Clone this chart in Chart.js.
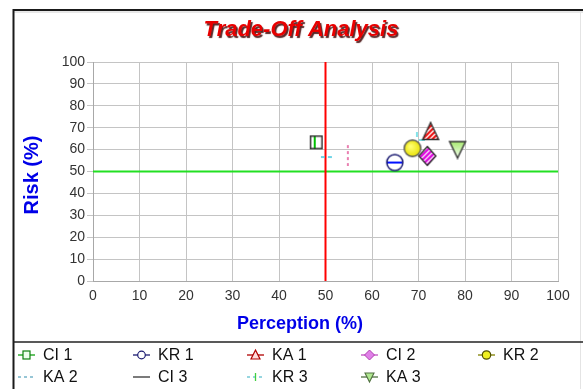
<!DOCTYPE html>
<html>
<head>
<meta charset="utf-8">
<script src="https://cdn.jsdelivr.net/npm/chart.js@4"></script>
<style>
  html, body { margin: 0; padding: 0; background: #fff; }
  #wrap { width: 583px; height: 389px; }
</style>
</head>
<body>
<div id="wrap"><canvas id="c" width="583" height="389"></canvas></div>
<script>
// Trade-off scatter: perception vs. risk per item
const seriesNames = ['CI 1', 'KR 1', 'KA 1', 'CI 2', 'KR 2', 'KA 2', 'CI 3', 'KR 3', 'KA 3'];
const perception  = [48.0, 64.9, 72.6, 71.9, 68.7, 50.3, 54.8, 70.3, 78.4];
const risk        = [63.3, 54.1, 68.5, 57.1, 60.6, 56.6, 57.5, 65.3, 60.0];
const xTickValues = [0, 10, 20, 30, 40, 50, 60, 70, 80, 90, 100];
const yTickValues = [0, 10, 20, 30, 40, 50, 60, 70, 80, 90, 100];
const perceptionThreshold = 50;
const riskThreshold = 50;

const NARROW = '"Liberation Sans Narrow", "Arial Narrow", "Liberation Sans", Arial, sans-serif';
const SANS = '"Liberation Sans", Arial, sans-serif';

// ---------- marker drawing helpers ----------
function makeCanvas(w, h, draw) {
  const cv = document.createElement('canvas');
  cv.width = w; cv.height = h;
  const g = cv.getContext('2d');
  draw(g, w, h);
  return cv;
}
function stripes(g, w, h, color, gap, width) {
  g.strokeStyle = color; g.lineWidth = width;
  for (let k = -h; k < w + h; k += gap) {
    g.beginPath(); g.moveTo(k, h); g.lineTo(k + h, 0); g.stroke();
  }
}
function legendLine(g, x, y, color) {
  g.strokeStyle = color; g.lineWidth = 1.3;
  g.beginPath(); g.moveTo(x, y); g.lineTo(x + 17, y); g.stroke();
}
const markerStyles = {
  'CI 1': {
    color: '#10b010',
    plot: () => makeCanvas(15, 16, (g) => {
      g.fillStyle = '#fff'; g.fillRect(2, 2, 11, 12);
      g.strokeStyle = '#00c000'; g.lineWidth = 2;
      g.beginPath(); g.moveTo(6, 2); g.lineTo(6, 14); g.stroke();
      g.strokeStyle = '#333'; g.lineWidth = 1.5; g.strokeRect(1.75, 1.75, 11.5, 12.5);
    }),
    legend: (g, x, y) => { legendLine(g, x, y, '#10a010'); g.fillStyle = '#efe'; g.fillRect(x + 5, y - 4, 7, 8); g.strokeStyle = '#108010'; g.lineWidth = 1.2; g.strokeRect(x + 5, y - 4, 7, 8); }
  },
  'KR 1': {
    color: '#1a1a80',
    plot: () => makeCanvas(20, 20, (g) => {
      g.beginPath(); g.arc(10, 10, 8, 0, Math.PI * 2);
      g.fillStyle = '#fff'; g.fill();
      g.save(); g.clip();
      g.strokeStyle = '#0010ff'; g.lineWidth = 2.2;
      g.beginPath(); g.moveTo(1, 10); g.lineTo(19, 10); g.stroke();
      g.restore();
      g.beginPath(); g.arc(10, 10, 8, 0, Math.PI * 2);
      g.strokeStyle = '#1a1a70'; g.lineWidth = 1.5; g.stroke();
    }),
    legend: (g, x, y) => { legendLine(g, x, y, '#1a1a70'); g.beginPath(); g.arc(x + 8.5, y, 3.8, 0, Math.PI * 2); g.fillStyle = '#fff'; g.fill(); g.strokeStyle = '#1a1a70'; g.lineWidth = 1.2; g.stroke(); }
  },
  'KA 1': {
    color: '#c00000',
    plot: () => makeCanvas(20, 20, (g) => {
      g.beginPath(); g.moveTo(10, 1.5); g.lineTo(18, 18.5); g.lineTo(2, 18.5); g.closePath();
      g.fillStyle = '#fff'; g.fill();
      g.save(); g.clip(); stripes(g, 20, 20, '#ee1010', 5, 2.2); g.restore();
      g.beginPath(); g.moveTo(10, 1.5); g.lineTo(18, 18.5); g.lineTo(2, 18.5); g.closePath();
      g.strokeStyle = '#333'; g.lineWidth = 1.4; g.stroke();
    }),
    legend: (g, x, y) => { legendLine(g, x, y, '#b00000'); g.beginPath(); g.moveTo(x + 8.5, y - 5); g.lineTo(x + 13, y + 4); g.lineTo(x + 4, y + 4); g.closePath(); g.fillStyle = '#fdd'; g.fill(); g.strokeStyle = '#b00000'; g.lineWidth = 1.2; g.stroke(); }
  },
  'CI 2': {
    color: '#d000d0',
    plot: () => makeCanvas(20, 22, (g) => {
      g.beginPath(); g.moveTo(10, 1.5); g.lineTo(18.5, 11); g.lineTo(10, 20.5); g.lineTo(1.5, 11); g.closePath();
      g.fillStyle = '#fff'; g.fill();
      g.save(); g.clip(); stripes(g, 20, 22, '#e010e0', 5, 2.4); g.restore();
      g.beginPath(); g.moveTo(10, 1.5); g.lineTo(18.5, 11); g.lineTo(10, 20.5); g.lineTo(1.5, 11); g.closePath();
      g.strokeStyle = '#333'; g.lineWidth = 1.4; g.stroke();
    }),
    legend: (g, x, y) => { legendLine(g, x, y, '#c050c0'); g.beginPath(); g.moveTo(x + 8.5, y - 5); g.lineTo(x + 13.5, y); g.lineTo(x + 8.5, y + 5); g.lineTo(x + 3.5, y); g.closePath(); g.fillStyle = '#e080e8'; g.fill(); g.strokeStyle = '#b040b0'; g.lineWidth = 1; g.stroke(); }
  },
  'KR 2': {
    color: '#a0a000',
    plot: () => makeCanvas(20, 20, (g) => {
      g.beginPath(); g.arc(10, 10, 8.3, 0, Math.PI * 2);
      const gr = g.createRadialGradient(8, 8, 1, 10, 10, 9);
      gr.addColorStop(0, '#ffff70'); gr.addColorStop(1, '#e8e000');
      g.fillStyle = gr; g.fill();
      g.strokeStyle = '#555'; g.lineWidth = 1.4; g.stroke();
    }),
    legend: (g, x, y) => { legendLine(g, x, y, '#808000'); g.beginPath(); g.arc(x + 8.5, y, 4.2, 0, Math.PI * 2); g.fillStyle = '#f0f020'; g.fill(); g.strokeStyle = '#505000'; g.lineWidth = 1.2; g.stroke(); }
  },
  'KA 2': {
    color: '#40c8e0',
    plot: () => makeCanvas(14, 4, (g) => {
      g.strokeStyle = '#40c8e0'; g.lineWidth = 1.5;
      g.beginPath(); g.moveTo(1, 2); g.lineTo(5, 2); g.moveTo(8, 2); g.lineTo(12, 2); g.stroke();
    }),
    legend: (g, x, y) => { g.strokeStyle = '#60a8c0'; g.lineWidth = 1.3; g.setLineDash([3, 3]); g.beginPath(); g.moveTo(x, y); g.lineTo(x + 17, y); g.stroke(); g.setLineDash([]); }
  },
  'CI 3': {
    color: '#e04080',
    plot: () => makeCanvas(4, 22, (g) => {
      g.strokeStyle = '#e04a90'; g.lineWidth = 1.4;
      g.beginPath();
      for (let k = 1; k < 21; k += 6) { g.moveTo(2, k); g.lineTo(2, k + 3); }
      g.stroke();
    }),
    legend: (g, x, y) => { legendLine(g, x, y, '#333'); }
  },
  'KR 3': {
    color: '#40d0d0',
    plot: () => makeCanvas(14, 14, (g) => {
      g.strokeStyle = '#50d8e0'; g.lineWidth = 1.4;
      g.beginPath(); g.moveTo(4, 1); g.lineTo(4, 6); g.moveTo(6, 9); g.lineTo(12, 9); g.stroke();
    }),
    legend: (g, x, y) => { g.strokeStyle = '#60c0d0'; g.lineWidth = 1.3; g.setLineDash([3, 3]); g.beginPath(); g.moveTo(x, y); g.lineTo(x + 17, y); g.stroke(); g.setLineDash([]); g.strokeStyle = '#40d040'; g.beginPath(); g.moveTo(x + 8.5, y - 4); g.lineTo(x + 8.5, y + 4); g.stroke(); }
  },
  'KA 3': {
    color: '#60a040',
    plot: () => makeCanvas(20, 20, (g) => {
      g.beginPath(); g.moveTo(2, 2); g.lineTo(18, 2); g.lineTo(10, 18.5); g.closePath();
      const gr = g.createLinearGradient(0, 2, 0, 18);
      gr.addColorStop(0, '#a8e870'); gr.addColorStop(1, '#f4fff0');
      g.fillStyle = gr; g.fill();
      g.strokeStyle = '#333'; g.lineWidth = 1.4; g.stroke();
    }),
    legend: (g, x, y) => { legendLine(g, x, y, '#507040'); g.beginPath(); g.moveTo(x + 4, y - 4); g.lineTo(x + 13, y - 4); g.lineTo(x + 8.5, y + 5); g.closePath(); g.fillStyle = '#b0e890'; g.fill(); g.strokeStyle = '#507040'; g.lineWidth = 1.1; g.stroke(); }
  }
};

// ---------- datasets ----------
const datasets = [
  {
    label: 'perceptionThreshold', type: 'line',
    data: [{ x: perceptionThreshold, y: 0 }, { x: perceptionThreshold, y: 100 }],
    borderColor: '#ff0000', borderWidth: 2, pointRadius: 0, order: 20, isReference: true
  },
  {
    label: 'riskThreshold', type: 'line',
    data: [{ x: 0, y: riskThreshold }, { x: 100, y: riskThreshold }],
    borderColor: '#22e022', borderWidth: 2.2, pointRadius: 0, order: 21, isReference: true
  }
];
seriesNames.forEach((name, i) => {
  const st = markerStyles[name];
  datasets.push({
    label: name,
    data: [{ x: perception[i], y: risk[i] }],
    pointStyle: st.plot(),
    pointRadius: 8,
    borderColor: st.color,
    backgroundColor: st.color,
    order: 1
  });
});

// ---------- frame, titles and legend ----------
const decorations = {
  id: 'decorations',
  beforeDraw(chart) {
    const g = chart.ctx;
    g.save();
    g.fillStyle = '#fff'; g.fillRect(0, 0, chart.width, chart.height);
    g.restore();
  },
  afterDraw(chart) {
    const g = chart.ctx;
    g.save();
    // outer frame
    g.strokeStyle = '#d0d0d0'; g.lineWidth = 1;
    g.beginPath(); g.moveTo(13, 12); g.lineTo(583, 12); g.stroke();
    g.strokeStyle = '#1a1a1a'; g.lineWidth = 2;
    g.beginPath(); g.moveTo(13, 10); g.lineTo(583, 10); g.stroke();
    g.beginPath(); g.moveTo(13.5, 9); g.lineTo(13.5, 389); g.stroke();
    g.strokeStyle = '#e4e4e4'; g.lineWidth = 1;
    g.beginPath(); g.moveTo(580.5, 11); g.lineTo(580.5, 389); g.stroke();
    // legend separator
    g.strokeStyle = '#222'; g.lineWidth = 1.5;
    g.beginPath(); g.moveTo(13, 342); g.lineTo(583, 342); g.stroke();

    // chart title with drop shadow
    g.font = 'italic bold 22px ' + SANS;
    g.textAlign = 'center'; g.textBaseline = 'alphabetic';
    g.shadowColor = 'rgba(60,0,0,0.85)'; g.shadowOffsetX = 1.5; g.shadowOffsetY = 1.5; g.shadowBlur = 1;
    g.fillStyle = '#e80000';
    g.fillText('Trade-Off Analysis', 301, 36);
    g.shadowColor = 'transparent';

    // axis titles
    g.fillStyle = '#0000e8';
    g.font = 'bold 18px ' + SANS;
    g.textBaseline = 'middle';
    g.fillText('Perception (%)', 300, 324);
    g.font = 'bold 20px ' + SANS;
    g.save();
    g.translate(32, 175); g.rotate(-Math.PI / 2);
    g.fillText('Risk (%)', 0, 0);
    g.restore();

    // legend: five columns, two rows
    const colX = [18, 133, 247, 361, 478];
    const rowY = [355, 377];
    g.font = '16px ' + NARROW;
    g.textAlign = 'left';
    chart.data.datasets.filter(d => !d.isReference).forEach((d, i) => {
      const col = i % 5, row = Math.floor(i / 5);
      const x = colX[col], y = rowY[row];
      markerStyles[d.label].legend(g, x, y);
      g.fillStyle = '#111';
      g.fillText(d.label, x + 25, y + 1);
    });
    g.restore();
  }
};

const tickFont = { family: NARROW, size: 14 };
new Chart(document.getElementById('c'), {
  type: 'scatter',
  data: { datasets },
  options: {
    responsive: false,
    animation: false,
    layout: { padding: { top: 62, right: 25, bottom: 0, left: 0 } },
    plugins: { legend: { display: false }, title: { display: false }, tooltip: { enabled: false } },
    scales: {
      x: {
        type: 'linear', min: 0, max: 100,
        afterFit(scale) { scale.height = 108; },
        afterBuildTicks(scale) { scale.ticks = xTickValues.map(v => ({ value: v })); },
        ticks: { font: tickFont, color: '#333', padding: 7 },
        grid: { color: '#c4c4c4', drawTicks: false, lineWidth: 1 },
        border: { color: '#a8a8a8' }
      },
      y: {
        type: 'linear', min: 0, max: 100,
        afterFit(scale) { scale.width = 93; },
        afterBuildTicks(scale) { scale.ticks = yTickValues.map(v => ({ value: v })); },
        ticks: { font: tickFont, color: '#333', padding: 2 },
        grid: { color: '#c4c4c4', tickLength: 6, lineWidth: 1 },
        border: { color: '#a8a8a8' }
      }
    }
  },
  plugins: [decorations]
});
</script>
</body>
</html>
